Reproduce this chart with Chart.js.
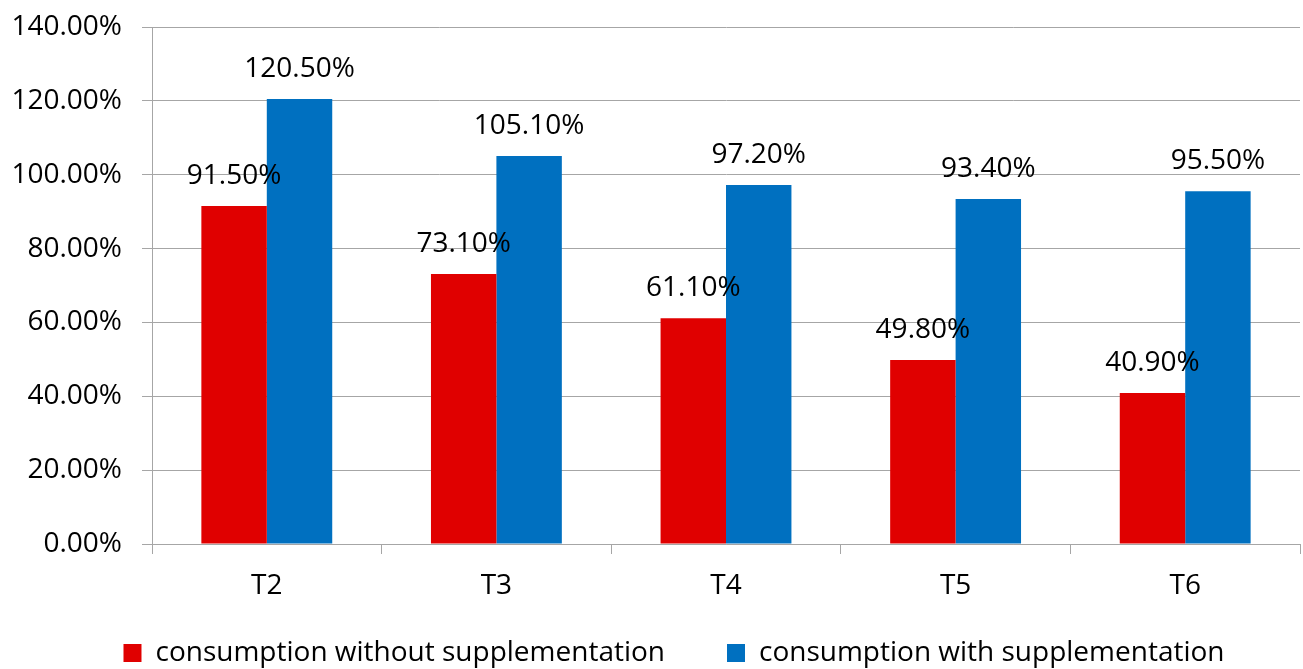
<!DOCTYPE html>
<html>
<head>
<meta charset="utf-8">
<script src="https://cdn.jsdelivr.net/npm/chart.js@4.4.0/dist/chart.umd.min.js"></script>
<style>
  html, body { margin: 0; padding: 0; background: #fff; }
  #wrap { width: 1303px; height: 669px; }
</style>
</head>
<body>
<div id="wrap"><canvas id="chart"></canvas></div>
<script>
const categories = ['T2', 'T3', 'T4', 'T5', 'T6'];
const withoutSupp = [91.5, 73.1, 61.1, 49.8, 40.9];
const withSupp = [120.5, 105.1, 97.2, 93.4, 95.5];
const seriesNames = ['consumption without supplementation', 'consumption with supplementation'];
const yTicks = [0, 20, 40, 60, 80, 100, 120, 140];

const FONT = '"Open Sans", sans-serif';
const gray = '#a6a6a6';

// draws value labels above each bar
const barLabels = {
  id: 'barLabels',
  afterDatasetsDraw(chart) {
    const ctx = chart.ctx;
    ctx.save();
    ctx.font = '28px ' + FONT;
    ctx.fillStyle = '#000';
    ctx.textAlign = 'center';
    ctx.textBaseline = 'alphabetic';
    chart.data.datasets.forEach((ds, i) => {
      chart.getDatasetMeta(i).data.forEach((bar, j) => {
        ctx.fillText(ds.data[j].toFixed(2) + '%', bar.x, bar.y - 22);
      });
    });
    ctx.restore();
  }
};

// keeps the legend short so the plot reaches down to the x axis, then nudges it into place
const legendPlace = {
  id: 'legendPlace',
  beforeLayout(chart) {
    const lg = chart.legend;
    if (lg && !lg._patched) {
      const fit = lg.fit.bind(lg);
      lg.fit = function () { fit(); this.height = 65; };
      lg._patched = true;
    }
  },
  afterLayout(chart) {
    const lg = chart.legend;
    if (!lg) return;
    lg.top -= 27;
    lg.left += 24; lg.right += 24;
  }
};

new Chart(document.getElementById('chart'), {
  type: 'bar',
  data: {
    labels: categories,
    datasets: [
      { label: seriesNames[0], data: withoutSupp, backgroundColor: '#e00000' },
      { label: seriesNames[1], data: withSupp, backgroundColor: '#0070c0' }
    ]
  },
  options: {
    responsive: true,
    maintainAspectRatio: false,
    animation: false,
    layout: { padding: { top: 0, right: 3, left: 0, bottom: 0 } },
    datasets: { bar: { categoryPercentage: 0.57, barPercentage: 1.0 } },
    plugins: {
      legend: {
        position: 'bottom',
        labels: {
          font: { family: FONT, size: 28 },
          color: '#000',
          boxWidth: 18,
          boxHeight: 18,
          padding: 62
        }
      },
      tooltip: { enabled: false }
    },
    scales: {
      x: {
        grid: { display: true, drawOnChartArea: false, offset: true, color: gray, tickLength: 10 },
        border: { color: gray },
        ticks: { font: { family: FONT, size: 28 }, color: '#000', padding: 15 },
        afterFit(scale) { scale.height = 60; }
      },
      y: {
        min: 0,
        max: 140,
        afterBuildTicks(scale) { scale.ticks = yTicks.map(v => ({ value: v })); },
        grid: { color: gray, tickLength: 10 },
        border: { color: gray },
        ticks: {
          font: { family: FONT, size: 28 },
          color: '#000',
          padding: 20,
          callback: (v) => v.toFixed(2) + '%'
        },
        afterFit(scale) {
          scale.width = 152;
          scale.paddingTop = 27;
          scale.paddingBottom = 0;
        }
      }
    }
  },
  plugins: [barLabels, legendPlace]
});
</script>
</body>
</html>
